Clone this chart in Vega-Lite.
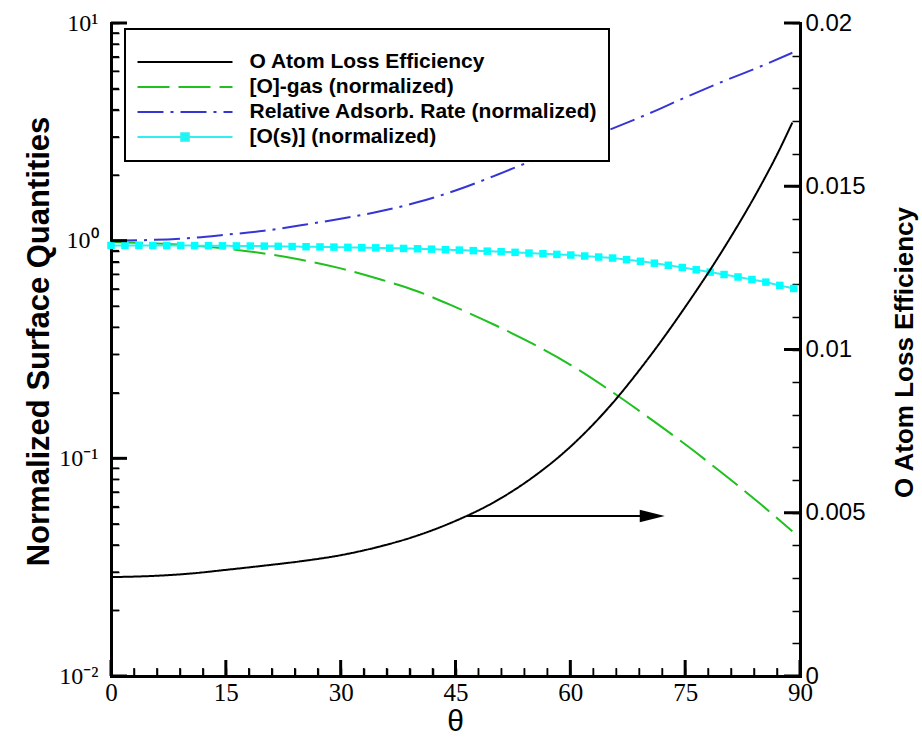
{
  "$schema": "https://vega.github.io/schema/vega-lite/v6.json",
  "width": 689,
  "height": 653,
  "autosize": {"type": "none"},
  "padding": {"left": 111, "top": 23, "right": 122, "bottom": 64},
  "background": "white",
  "config": {
    "view": {"stroke": null},
    "font": "Liberation Sans",
    "axis": {
      "labelColor": "black", "tickColor": "black", "domainColor": "black", "domainWidth": 3, "domainCap": "square",
      "grid": false, "labelFlush": false, "labelOverlap": false, "labelBound": false, "tickSize": -8, "tickWidth": 1.5, "titleColor": "black"
    }
  },
  "datasets": {
    "left": [
      {"series": "[O]-gas (normalized)", "theta": 0, "value": 0.985},
      {"series": "[O]-gas (normalized)", "theta": 5, "value": 0.973},
      {"series": "[O]-gas (normalized)", "theta": 10, "value": 0.955},
      {"series": "[O]-gas (normalized)", "theta": 15, "value": 0.920},
      {"series": "[O]-gas (normalized)", "theta": 20, "value": 0.873},
      {"series": "[O]-gas (normalized)", "theta": 25, "value": 0.815},
      {"series": "[O]-gas (normalized)", "theta": 30, "value": 0.746},
      {"series": "[O]-gas (normalized)", "theta": 35, "value": 0.667},
      {"series": "[O]-gas (normalized)", "theta": 40, "value": 0.586},
      {"series": "[O]-gas (normalized)", "theta": 45, "value": 0.495},
      {"series": "[O]-gas (normalized)", "theta": 50, "value": 0.412},
      {"series": "[O]-gas (normalized)", "theta": 55, "value": 0.337},
      {"series": "[O]-gas (normalized)", "theta": 60, "value": 0.269},
      {"series": "[O]-gas (normalized)", "theta": 65, "value": 0.207},
      {"series": "[O]-gas (normalized)", "theta": 70, "value": 0.156},
      {"series": "[O]-gas (normalized)", "theta": 75, "value": 0.116},
      {"series": "[O]-gas (normalized)", "theta": 80, "value": 0.0847},
      {"series": "[O]-gas (normalized)", "theta": 85, "value": 0.0610},
      {"series": "[O]-gas (normalized)", "theta": 89, "value": 0.0462},
      {"series": "Relative Adsorb. Rate (normalized)", "theta": 0, "value": 1.0},
      {"series": "Relative Adsorb. Rate (normalized)", "theta": 5, "value": 1.007},
      {"series": "Relative Adsorb. Rate (normalized)", "theta": 10, "value": 1.027},
      {"series": "Relative Adsorb. Rate (normalized)", "theta": 15, "value": 1.065},
      {"series": "Relative Adsorb. Rate (normalized)", "theta": 20, "value": 1.11},
      {"series": "Relative Adsorb. Rate (normalized)", "theta": 25, "value": 1.18},
      {"series": "Relative Adsorb. Rate (normalized)", "theta": 30, "value": 1.26},
      {"series": "Relative Adsorb. Rate (normalized)", "theta": 35, "value": 1.36},
      {"series": "Relative Adsorb. Rate (normalized)", "theta": 40, "value": 1.50},
      {"series": "Relative Adsorb. Rate (normalized)", "theta": 45, "value": 1.70},
      {"series": "Relative Adsorb. Rate (normalized)", "theta": 50, "value": 1.98},
      {"series": "Relative Adsorb. Rate (normalized)", "theta": 55, "value": 2.33},
      {"series": "Relative Adsorb. Rate (normalized)", "theta": 60, "value": 2.74},
      {"series": "Relative Adsorb. Rate (normalized)", "theta": 65, "value": 3.22},
      {"series": "Relative Adsorb. Rate (normalized)", "theta": 70, "value": 3.80},
      {"series": "Relative Adsorb. Rate (normalized)", "theta": 75, "value": 4.55},
      {"series": "Relative Adsorb. Rate (normalized)", "theta": 80, "value": 5.40},
      {"series": "Relative Adsorb. Rate (normalized)", "theta": 85, "value": 6.35},
      {"series": "Relative Adsorb. Rate (normalized)", "theta": 89, "value": 7.30},
      {"series": "[O(s)] (normalized)", "theta": 0, "value": 0.951},
      {"series": "[O(s)] (normalized)", "theta": 1.82, "value": 0.951},
      {"series": "[O(s)] (normalized)", "theta": 3.64, "value": 0.951},
      {"series": "[O(s)] (normalized)", "theta": 5.46, "value": 0.950},
      {"series": "[O(s)] (normalized)", "theta": 7.28, "value": 0.950},
      {"series": "[O(s)] (normalized)", "theta": 9.1, "value": 0.950},
      {"series": "[O(s)] (normalized)", "theta": 10.92, "value": 0.949},
      {"series": "[O(s)] (normalized)", "theta": 12.74, "value": 0.948},
      {"series": "[O(s)] (normalized)", "theta": 14.56, "value": 0.947},
      {"series": "[O(s)] (normalized)", "theta": 16.38, "value": 0.946},
      {"series": "[O(s)] (normalized)", "theta": 18.2, "value": 0.945},
      {"series": "[O(s)] (normalized)", "theta": 20.02, "value": 0.944},
      {"series": "[O(s)] (normalized)", "theta": 21.84, "value": 0.942},
      {"series": "[O(s)] (normalized)", "theta": 23.66, "value": 0.940},
      {"series": "[O(s)] (normalized)", "theta": 25.48, "value": 0.938},
      {"series": "[O(s)] (normalized)", "theta": 27.3, "value": 0.936},
      {"series": "[O(s)] (normalized)", "theta": 29.12, "value": 0.934},
      {"series": "[O(s)] (normalized)", "theta": 30.94, "value": 0.932},
      {"series": "[O(s)] (normalized)", "theta": 32.76, "value": 0.929},
      {"series": "[O(s)] (normalized)", "theta": 34.58, "value": 0.927},
      {"series": "[O(s)] (normalized)", "theta": 36.4, "value": 0.924},
      {"series": "[O(s)] (normalized)", "theta": 38.22, "value": 0.921},
      {"series": "[O(s)] (normalized)", "theta": 40.04, "value": 0.918},
      {"series": "[O(s)] (normalized)", "theta": 41.86, "value": 0.914},
      {"series": "[O(s)] (normalized)", "theta": 43.68, "value": 0.909},
      {"series": "[O(s)] (normalized)", "theta": 45.5, "value": 0.905},
      {"series": "[O(s)] (normalized)", "theta": 47.32, "value": 0.900},
      {"series": "[O(s)] (normalized)", "theta": 49.14, "value": 0.895},
      {"series": "[O(s)] (normalized)", "theta": 50.96, "value": 0.890},
      {"series": "[O(s)] (normalized)", "theta": 52.78, "value": 0.884},
      {"series": "[O(s)] (normalized)", "theta": 54.6, "value": 0.877},
      {"series": "[O(s)] (normalized)", "theta": 56.42, "value": 0.871},
      {"series": "[O(s)] (normalized)", "theta": 58.24, "value": 0.865},
      {"series": "[O(s)] (normalized)", "theta": 60.06, "value": 0.859},
      {"series": "[O(s)] (normalized)", "theta": 61.88, "value": 0.850},
      {"series": "[O(s)] (normalized)", "theta": 63.7, "value": 0.841},
      {"series": "[O(s)] (normalized)", "theta": 65.52, "value": 0.832},
      {"series": "[O(s)] (normalized)", "theta": 67.34, "value": 0.818},
      {"series": "[O(s)] (normalized)", "theta": 69.16, "value": 0.804},
      {"series": "[O(s)] (normalized)", "theta": 70.98, "value": 0.788},
      {"series": "[O(s)] (normalized)", "theta": 72.8, "value": 0.771},
      {"series": "[O(s)] (normalized)", "theta": 74.62, "value": 0.753},
      {"series": "[O(s)] (normalized)", "theta": 76.44, "value": 0.735},
      {"series": "[O(s)] (normalized)", "theta": 78.26, "value": 0.717},
      {"series": "[O(s)] (normalized)", "theta": 80.08, "value": 0.699},
      {"series": "[O(s)] (normalized)", "theta": 81.9, "value": 0.681},
      {"series": "[O(s)] (normalized)", "theta": 83.72, "value": 0.663},
      {"series": "[O(s)] (normalized)", "theta": 85.54, "value": 0.645},
      {"series": "[O(s)] (normalized)", "theta": 87.36, "value": 0.623},
      {"series": "[O(s)] (normalized)", "theta": 89.18, "value": 0.603}
    ],
    "black": [
      {"series": "O Atom Loss Efficiency", "theta": 0, "eff": 0.00303},
      {"series": "O Atom Loss Efficiency", "theta": 5, "eff": 0.00306},
      {"series": "O Atom Loss Efficiency", "theta": 10, "eff": 0.00313},
      {"series": "O Atom Loss Efficiency", "theta": 15, "eff": 0.00325},
      {"series": "O Atom Loss Efficiency", "theta": 20, "eff": 0.00338},
      {"series": "O Atom Loss Efficiency", "theta": 25, "eff": 0.00352},
      {"series": "O Atom Loss Efficiency", "theta": 30, "eff": 0.00370},
      {"series": "O Atom Loss Efficiency", "theta": 35, "eff": 0.00396},
      {"series": "O Atom Loss Efficiency", "theta": 40, "eff": 0.00430},
      {"series": "O Atom Loss Efficiency", "theta": 45, "eff": 0.00475},
      {"series": "O Atom Loss Efficiency", "theta": 50, "eff": 0.00532},
      {"series": "O Atom Loss Efficiency", "theta": 55, "eff": 0.00607},
      {"series": "O Atom Loss Efficiency", "theta": 60, "eff": 0.00702},
      {"series": "O Atom Loss Efficiency", "theta": 65, "eff": 0.00822},
      {"series": "O Atom Loss Efficiency", "theta": 70, "eff": 0.00967},
      {"series": "O Atom Loss Efficiency", "theta": 75, "eff": 0.01130},
      {"series": "O Atom Loss Efficiency", "theta": 80, "eff": 0.01308},
      {"series": "O Atom Loss Efficiency", "theta": 85, "eff": 0.01508},
      {"series": "O Atom Loss Efficiency", "theta": 87, "eff": 0.01597},
      {"series": "O Atom Loss Efficiency", "theta": 89, "eff": 0.01695}
    ],
    "arrow": [
      {"start": 46.5, "theta": 70.7, "eff": 0.0049}
    ],
    "xmajor": [
      {"theta": 0, "value": 0.01}, {"theta": 15, "value": 0.01}, {"theta": 30, "value": 0.01}, {"theta": 45, "value": 0.01},
      {"theta": 60, "value": 0.01}, {"theta": 75, "value": 0.01}, {"theta": 90, "value": 0.01}
    ],
    "xminor": [
      {"theta": 3, "value": 0.01}, {"theta": 6, "value": 0.01}, {"theta": 9, "value": 0.01}, {"theta": 12, "value": 0.01},
      {"theta": 18, "value": 0.01}, {"theta": 21, "value": 0.01}, {"theta": 24, "value": 0.01}, {"theta": 27, "value": 0.01},
      {"theta": 33, "value": 0.01}, {"theta": 36, "value": 0.01}, {"theta": 39, "value": 0.01}, {"theta": 42, "value": 0.01},
      {"theta": 48, "value": 0.01}, {"theta": 51, "value": 0.01}, {"theta": 54, "value": 0.01}, {"theta": 57, "value": 0.01},
      {"theta": 63, "value": 0.01}, {"theta": 66, "value": 0.01}, {"theta": 69, "value": 0.01}, {"theta": 72, "value": 0.01},
      {"theta": 78, "value": 0.01}, {"theta": 81, "value": 0.01}, {"theta": 84, "value": 0.01}, {"theta": 87, "value": 0.01}
    ],
    "lmajor": [
      {"theta": 0, "value": 0.01}, {"theta": 0, "value": 0.1}, {"theta": 0, "value": 1}, {"theta": 0, "value": 10}
    ],
    "lminor": [
      {"theta": 0, "value": 0.02}, {"theta": 0, "value": 0.03}, {"theta": 0, "value": 0.04}, {"theta": 0, "value": 0.05},
      {"theta": 0, "value": 0.06}, {"theta": 0, "value": 0.07}, {"theta": 0, "value": 0.08}, {"theta": 0, "value": 0.09},
      {"theta": 0, "value": 0.2}, {"theta": 0, "value": 0.3}, {"theta": 0, "value": 0.4}, {"theta": 0, "value": 0.5},
      {"theta": 0, "value": 0.6}, {"theta": 0, "value": 0.7}, {"theta": 0, "value": 0.8}, {"theta": 0, "value": 0.9},
      {"theta": 0, "value": 2}, {"theta": 0, "value": 3}, {"theta": 0, "value": 4}, {"theta": 0, "value": 5},
      {"theta": 0, "value": 6}, {"theta": 0, "value": 7}, {"theta": 0, "value": 8}, {"theta": 0, "value": 9}
    ],
    "rmajor": [
      {"theta": 90, "eff": 0}, {"theta": 90, "eff": 0.005}, {"theta": 90, "eff": 0.01}, {"theta": 90, "eff": 0.015}, {"theta": 90, "eff": 0.02}
    ]
  },
  "encoding": {
    "x": {
      "field": "theta", "type": "quantitative",
      "scale": {"domain": [0, 90], "nice": false, "zero": false},
      "axis": {"title": "θ", "values": [0, 3, 6, 9, 12, 15, 18, 21, 24, 27, 30, 33, 36, 39, 42, 45, 48, 51, 54, 57, 60, 63, 66, 69, 72, 75, 78, 81, 84, 87, 90], "format": "d", "labelExpr": "datum.value % 15 === 0 ? datum.label : ''", "labelFont": "Liberation Sans Narrow", "labelFontSize": 25, "labelPadding": 12, "titleFont": "Liberation Sans", "titleFontSize": 30, "titleFontWeight": "normal", "titleX": 344, "titleY": 54, "titleBaseline": "alphabetic", "titleAlign": "center"}
    }
  },
  "layer": [
    {
      "encoding": {
        "y": {
          "field": "value", "type": "quantitative",
          "scale": {"type": "log", "domain": [0.01, 10], "nice": false},
          "axis": {"orient": "left", "title": "Normalized Surface Quantities", "values": [0.01, 0.02, 0.03, 0.04, 0.05, 0.06, 0.07, 0.08, 0.09, 0.1, 0.2, 0.3, 0.4, 0.5, 0.6, 0.7, 0.8, 0.9, 1, 2, 3, 4, 5, 6, 7, 8, 9, 10], "labelExpr": "datum.value == 10 ? '10¹' : datum.value == 1 ? '10⁰' : datum.value == 0.1 ? '10⁻¹' : datum.value == 0.01 ? '10⁻²' : ''", "labelFont": "Liberation Sans Narrow", "labelFontSize": 24, "labelPadding": 21, "titleFont": "Liberation Sans", "titleFontSize": 31, "titleFontWeight": "bold", "titleAngle": 270, "titleX": -63, "titleY": 318, "titleBaseline": "alphabetic", "titleAlign": "center"}
        }
      },
      "layer": [
        {
          "data": {"name": "left"},
          "mark": {"type": "line", "strokeWidth": 2, "interpolate": "monotone"},
          "encoding": {
            "color": {
              "field": "series", "type": "nominal",
              "scale": {
                "domain": ["O Atom Loss Efficiency", "[O]-gas (normalized)", "Relative Adsorb. Rate (normalized)", "[O(s)] (normalized)"],
                "range": ["#000000", "#1FC01F", "#3535D5", "#33EEEE"]
              },
              "legend": {
                "orient": "none", "legendX": 14, "legendY": 6, "direction": "vertical",
                "title": " ", "titleFontSize": 5, "titlePadding": 4,
                "strokeColor": "black", "fillColor": "white", "padding": 11.5,
                "symbolType": "stroke", "symbolSize": 9025, "symbolStrokeWidth": 2,
                "clipHeight": 25, "rowPadding": 0, "labelOffset": 16,
                "labelFont": "Liberation Sans", "labelFontSize": 21, "labelFontWeight": "bold", "labelColor": "black", "labelLimit": 0,
                "encode": {
                  "legend": {"update": {"strokeWidth": {"value": 2}}},
                  "symbols": {
                    "update": {
                      "shape": {"signal": "datum.value === '[O(s)] (normalized)' ? 'M-1,0H1M-0.08,-0.08H0.08V0.08H-0.08Z' : 'stroke'"},
                      "fill": {"signal": "datum.value === '[O(s)] (normalized)' ? '#00FFFF' : 'transparent'"}
                    }
                  }
                }
              }
            },
            "strokeDash": {
              "field": "series", "type": "nominal",
              "scale": {
                "domain": ["O Atom Loss Efficiency", "[O]-gas (normalized)", "Relative Adsorb. Rate (normalized)", "[O(s)] (normalized)"],
                "range": [[1, 0], [32, 9], [26, 7, 3, 7], [1, 0]]
              }
            }
          }
        },
        {
          "data": {"name": "left"},
          "transform": [{"filter": "datum.series === '[O(s)] (normalized)'"}],
          "mark": {"type": "point", "shape": "square", "filled": true, "size": 56, "color": "#00FFFF", "opacity": 1}
        },
        {
          "data": {"name": "xmajor"},
          "mark": {"type": "tick", "orient": "vertical", "size": 16, "thickness": 3, "yOffset": -8, "color": "black", "opacity": 1}
        },
        {
          "data": {"name": "xminor"},
          "mark": {"type": "tick", "orient": "vertical", "size": 8, "thickness": 1.5, "yOffset": -4, "color": "black", "opacity": 1}
        },
        {
          "data": {"name": "lmajor"},
          "mark": {"type": "tick", "orient": "horizontal", "size": 16, "thickness": 3, "xOffset": 8, "color": "black", "opacity": 1}
        },
        {
          "data": {"name": "lminor"},
          "mark": {"type": "tick", "orient": "horizontal", "size": 8, "thickness": 1.5, "xOffset": 4, "color": "black", "opacity": 1}
        }
      ]
    },
    {
      "encoding": {
        "y": {
          "field": "eff", "type": "quantitative",
          "scale": {"domain": [0, 0.02], "nice": false, "zero": false},
          "axis": {"orient": "right", "title": "O Atom Loss Efficiency", "values": [0, 0.001, 0.002, 0.003, 0.004, 0.005, 0.006, 0.007, 0.008, 0.009, 0.01, 0.011, 0.012, 0.013, 0.014, 0.015, 0.016, 0.017, 0.018, 0.019, 0.02], "labelExpr": "indexof([0, 0.005, 0.01, 0.015, 0.02], datum.value) >= 0 ? format(datum.value, '~g') : ''", "labelFont": "Liberation Sans", "labelFontSize": 24, "labelPadding": 13, "titleFont": "Liberation Sans", "titleFontSize": 26, "titleFontWeight": "bold", "titleAngle": 270, "titleX": 112, "titleY": 329, "titleBaseline": "alphabetic", "titleAlign": "center"}
        }
      },
      "layer": [
        {
          "data": {"name": "black"},
          "mark": {"type": "line", "strokeWidth": 2, "interpolate": "monotone"},
          "encoding": {
            "color": {"field": "series", "type": "nominal"},
            "strokeDash": {"field": "series", "type": "nominal"}
          }
        },
        {
          "data": {"name": "arrow"},
          "mark": {"type": "rule", "strokeWidth": 2, "color": "black"},
          "encoding": {"x2": {"field": "start"}}
        },
        {
          "data": {"name": "arrow"},
          "mark": {"type": "point", "shape": "M-1,-0.5L1,0L-1,0.5Z", "filled": true, "size": 625, "color": "black", "opacity": 1}
        },
        {
          "data": {"name": "rmajor"},
          "mark": {"type": "tick", "orient": "horizontal", "size": 16, "thickness": 3, "xOffset": -8, "color": "black", "opacity": 1}
        }
      ]
    }
  ],
  "resolve": {"scale": {"y": "independent"}}
}
